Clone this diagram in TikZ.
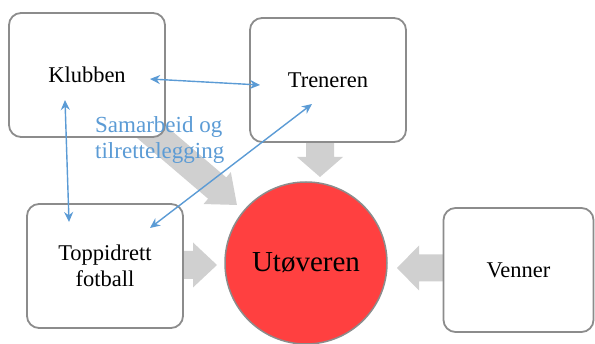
\documentclass[tikz,border=0pt]{standalone}
\usepackage{fontspec}
\setmainfont{Liberation Serif}
\usetikzlibrary{arrows.meta,calc}
\definecolor{boxgray}{HTML}{8C8C8C}
\definecolor{arrgray}{HTML}{D0D0D0}
\definecolor{blueline}{HTML}{5B9BD5}
\definecolor{athred}{HTML}{FF4040}

% block arrow from coordinate #1 to coordinate #2; #3 shaft half width, #4 head half width, #5 head length
\newcommand\blockarr[5]{%
  \path let \p1=($(#2)-(#1)$) in
    \pgfextra{\pgfmathsetmacro\barang{atan2(\y1,\x1)}\pgfmathsetmacro\barlen{veclen(\x1,\y1)}\xdef\barang{\barang}\xdef\barlen{\barlen}};
  \fill[arrgray, shift={(#1)}, rotate=\barang]
    (0pt,-#3) -- ({\barlen pt-#5},-#3) -- ({\barlen pt-#5},-#4) -- (\barlen pt,0pt)
    -- ({\barlen pt-#5},#4) -- ({\barlen pt-#5},#3) -- (0pt,#3) -- cycle;
}

\tikzset{
  box/.style={draw=boxgray, line width=1.8pt, rounded corners=12pt, fill=white,
    minimum width=156pt, minimum height=124pt, inner sep=0pt,
    font=\fontsize{22.5}{25.5}\selectfont, align=center},
  person/.style={circle, draw=boxgray, line width=1.5pt, fill=athred, minimum size=162pt,
    inner sep=0pt, font=\fontsize{29}{34}\selectfont},
  link/.style={draw=blueline, line width=1.4pt,
    {Stealth[length=10pt,width=9pt]}-{Stealth[length=10pt,width=9pt]}},
  note/.style={text=blueline, font=\fontsize{23}{26}\selectfont, align=left, inner sep=0pt},
}

\begin{document}
\begin{tikzpicture}[x=1pt,y=-1pt]
\useasboundingbox (0,0) rectangle (595,344);

% gray block arrows (behind everything)
\coordinate (g1s) at (320,143); \coordinate (g1e) at (320,177);
\coordinate (g2s) at (184,265); \coordinate (g2e) at (217,265);
\coordinate (g3s) at (443,268); \coordinate (g3e) at (397,268);
\coordinate (g4s) at (141,123); \coordinate (g4e) at (237,205);
\blockarr{g1s}{g1e}{14pt}{23pt}{20pt}
\blockarr{g2s}{g2e}{14pt}{22.5pt}{24pt}
\blockarr{g3s}{g3e}{13.5pt}{22.5pt}{22pt}
\blockarr{g4s}{g4e}{14pt}{21pt}{26pt}

% boxes
\node[box] (klub) at (87,75) {Klubben};
\node[box] (tren) at (328,80) {Treneren};
\node[box] (topp) at (105,266) {Toppidrett\\fotball};
\node[box, minimum width=150pt] (venn) at (518.5,270) {Venner};

% athlete
\node[person] (ut) at (306,263) {Utøveren};

% blue links
\coordinate (k1) at (150,79);  \coordinate (t1) at (260,85);
\coordinate (k2) at (65,100);  \coordinate (p2) at (69,222);
\coordinate (p3) at (150,228); \coordinate (t3) at (312,104);
\draw[link] (k1) -- (t1);
\draw[link] (k2) -- (p2);
\draw[link] (p3) -- (t3);

% label
\node[note, anchor=base west] (lab) at (95,159) {Samarbeid og\\tilrettelegging};
\end{tikzpicture}
\end{document}
